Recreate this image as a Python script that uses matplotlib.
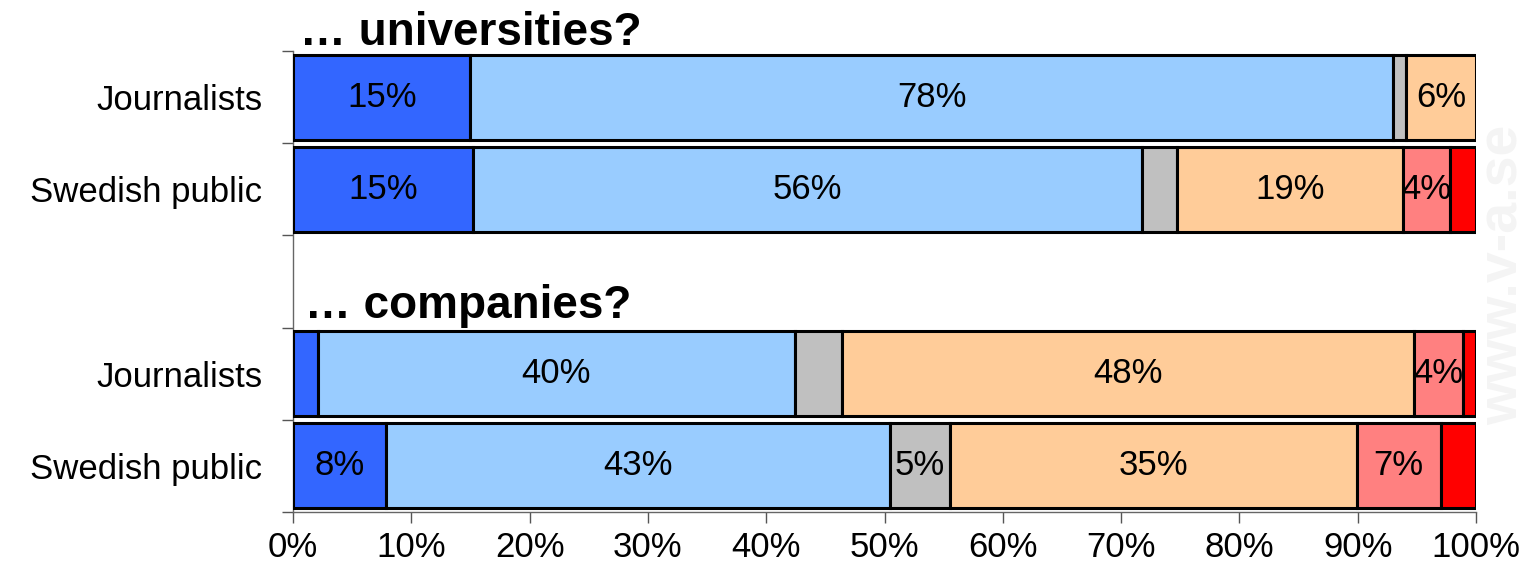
import matplotlib
matplotlib.use("Agg")
import matplotlib.pyplot as plt
import numpy as np

plt.rcParams['font.family'] = ['Liberation Sans', 'DejaVu Sans']

# Data (rows top to bottom; "" marks the empty spacer row)
row_labels = ["Journalists", "Swedish public", "", "Journalists", "Swedish public"]
segment_colors = ["#3366FF", "#99CCFF", "#C0C0C0", "#FFCC99", "#FF8080", "#FF0000"]

uni_journalists = [15.0, 78.0, 1.1, 5.9, 0.0, 0.0]
uni_public = [15.2, 56.6, 2.9, 19.1, 4.0, 2.2]
comp_journalists = [2.1, 40.3, 4.0, 48.4, 4.1, 1.1]
comp_public = [7.9, 42.6, 5.0, 34.4, 7.1, 3.0]

uni_journalists_lbl = ["15%", "78%", "", "6%", "", ""]
uni_public_lbl = ["15%", "56%", "", "19%", "4%", ""]
comp_journalists_lbl = ["", "40%", "", "48%", "4%", ""]
comp_public_lbl = ["8%", "43%", "5%", "35%", "7%", ""]

section_titles = ["\u2026 universities?", "\u2026 companies?"]
xticks = list(range(0, 101, 10))

rows = [(0, uni_journalists, uni_journalists_lbl),
        (1, uni_public, uni_public_lbl),
        (3, comp_journalists, comp_journalists_lbl),
        (4, comp_public, comp_public_lbl)]

fig = plt.figure(figsize=(15.31, 5.73), dpi=100)
ax = fig.add_axes([293/1531, 1 - 512/573, (1476-293)/1531, (512-51)/573])
ax.set_facecolor('none')
ax.set_zorder(1)

# faint watermark
fig.text(1504/1531, 0.52, "www.v-a.se", rotation=90, ha='center', va='center',
         fontsize=40, fontweight='bold', color='#f4f4f4', zorder=-5)

for ypos, vals, lbls in rows:
    left = 0.0
    for v, c, l in zip(vals, segment_colors, lbls):
        if v > 0:
            ax.barh(ypos, v, left=left, height=0.92, color=c,
                    edgecolor='black', linewidth=2.2, zorder=3)
            if l:
                ax.text(left + v/2, ypos, l, ha='center', va='center',
                        fontsize=25, zorder=4)
        left += v

ax.set_xlim(0, 100)
ax.set_ylim(4.5, -0.5)
ax.set_xticks(xticks)
ax.set_xticklabels([f"{t}%" for t in xticks], fontsize=25)
ax.set_yticks([0, 1, 3, 4])
ax.set_yticklabels([row_labels[i] for i in [0, 1, 3, 4]], fontsize=25)
ax.set_yticks([-0.5, 0.5, 1.5, 2.5, 3.5, 4.5], minor=True)
ax.tick_params(axis='y', which='major', length=0, pad=22)
ax.tick_params(axis='y', which='minor', length=8, width=1, color='#555555', direction='out')
ax.tick_params(axis='x', which='major', length=8, width=1, color='#555555', direction='out', pad=6)

for s in ['top', 'right']:
    ax.spines[s].set_visible(False)
for s in ['left', 'bottom']:
    ax.spines[s].set_color('#666666')
    ax.spines[s].set_linewidth(1)

ax.text(0.6, -0.565, section_titles[0], ha='left', va='baseline', fontsize=33,
        fontweight='bold', clip_on=False, zorder=5)
ax.text(1.0, 2.40, section_titles[1], ha='left', va='baseline', fontsize=33,
        fontweight='bold', clip_on=False, zorder=5)

fig.savefig("out.png", dpi=100)
